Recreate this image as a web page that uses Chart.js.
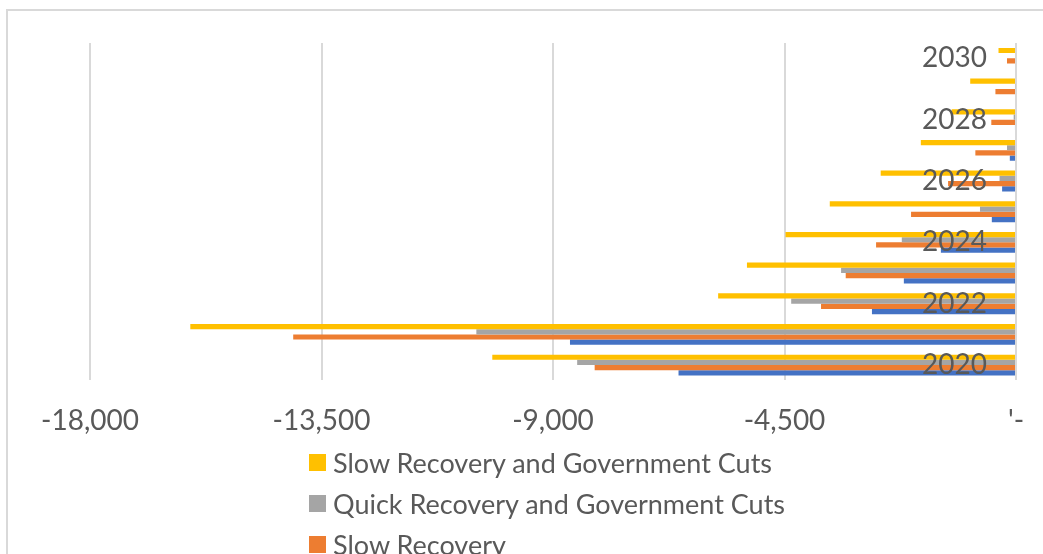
<!DOCTYPE html>
<html>
<head>
<meta charset="utf-8">
<script src="https://cdn.jsdelivr.net/npm/chart.js@4/dist/chart.umd.min.js"></script>
<style>
  html, body { margin: 0; padding: 0; background: #ffffff; }
  #wrap { position: relative; width: 1043px; height: 554px; overflow: hidden; background: #ffffff; }
  #frame { position: absolute; left: 6px; top: 9px; width: 1100px; height: 600px;
           border-top: 2px solid #d9d9d9; border-left: 2px solid #d9d9d9; }
  #chart { position: absolute; left: 0; top: 0; }
  #legend { position: absolute; left: 309px; top: 442px; font-family: Lato, sans-serif;
            font-size: 27px; color: #595959; }
  .item { position: relative; height: 41px; line-height: 41px; white-space: nowrap; }
  .swatch { position: absolute; left: 0; top: 12px; width: 17px; height: 17px; }
  .label { position: absolute; left: 24px; top: 0; }
</style>
</head>
<body>
<div id="wrap">
  <div id="frame"></div>
  <canvas id="chart" width="1043" height="554"></canvas>
  <div id="legend"></div>
</div>
<script>
// Years on the category axis (2020 drawn at the bottom)
const years = ['2020', '2021', '2022', '2023', '2024', '2025', '2026', '2027', '2028', '2029', '2030'];

// Value-axis tick labels, from -18,000 up to zero
const xTickLabels = ['-18,000', '-13,500', '-9,000', '-4,500', "'-"];

// Scenario names, in the order they are stacked within each year
const seriesNames = [
  'Slow Recovery and Government Cuts',
  'Quick Recovery and Government Cuts',
  'Slow Recovery',
  'Quick Recovery'
];
const seriesColors = ['#FFC000', '#A5A5A5', '#ED7D31', '#4472C4'];

// Change by year for each scenario
const slowRecoveryCuts  = [-10180, -16050, -5790, -5230, -4480, -3620, -2630, -1850, -1250, -890, -340];
const quickRecoveryCuts = [-8530, -10490, -4370, -3400, -2220, -700, -320, -175, -45, -15, 0];
const slowRecovery      = [-8190, -14050, -3790, -3310, -2720, -2040, -1320, -790, -480, -400, -175];
const quickRecovery     = [-6560, -8670, -2800, -2180, -1460, -470, -270, -120, -20, 0, 0];

const seriesValues = [slowRecoveryCuts, quickRecoveryCuts, slowRecovery, quickRecovery];

const textColor = '#595959';
const font = { family: 'Lato, sans-serif', size: 28 };

const datasets = seriesNames.map((name, i) => ({
  label: name,
  data: seriesValues[i],
  backgroundColor: seriesColors[i],
  borderWidth: 0,
  categoryPercentage: 0.68,
  barPercentage: 1.0
}));

new Chart(document.getElementById('chart'), {
  type: 'bar',
  data: { labels: years, datasets },
  options: {
    indexAxis: 'y',
    responsive: false,
    devicePixelRatio: 1,
    animation: false,
    layout: { padding: { left: 90, right: 27, top: 43, bottom: 92 } },
    plugins: {
      legend: { display: false },
      tooltip: { enabled: false }
    },
    scales: {
      x: {
        type: 'linear',
        min: -18000,
        max: 0,
        grid: { color: '#d9d9d9', lineWidth: 2, drawTicks: false },
        border: { display: false },
        ticks: {
          stepSize: 4500,
          padding: 24,
          color: textColor,
          font,
          maxRotation: 0,
          callback: (value, index) => xTickLabels[index]
        },
        // end labels may spill into the outer margins
        afterFit: (scale) => { scale.paddingLeft = 0; scale.paddingRight = 0; }
      },
      y: {
        type: 'category',
        position: 'right',
        reverse: true,
        grid: { display: false },
        border: { display: false },
        ticks: {
          z: 1,            // year labels sit on top of the bars
          mirror: true,
          padding: -29,
          autoSkip: false,
          color: textColor,
          font,
          callback: (value, index) => (index % 2 === 0 ? years[index] : '')
        },
        afterFit: (scale) => { scale.width = 0; }
      }
    }
  }
});

// Legend listing the scenarios one per row
const legend = document.getElementById('legend');
seriesNames.forEach((name, i) => {
  const row = document.createElement('div');
  row.className = 'item';
  const sw = document.createElement('span');
  sw.className = 'swatch';
  sw.style.background = seriesColors[i];
  const tx = document.createElement('span');
  tx.className = 'label';
  tx.textContent = name;
  row.appendChild(sw);
  row.appendChild(tx);
  legend.appendChild(row);
});
</script>
</body>
</html>
